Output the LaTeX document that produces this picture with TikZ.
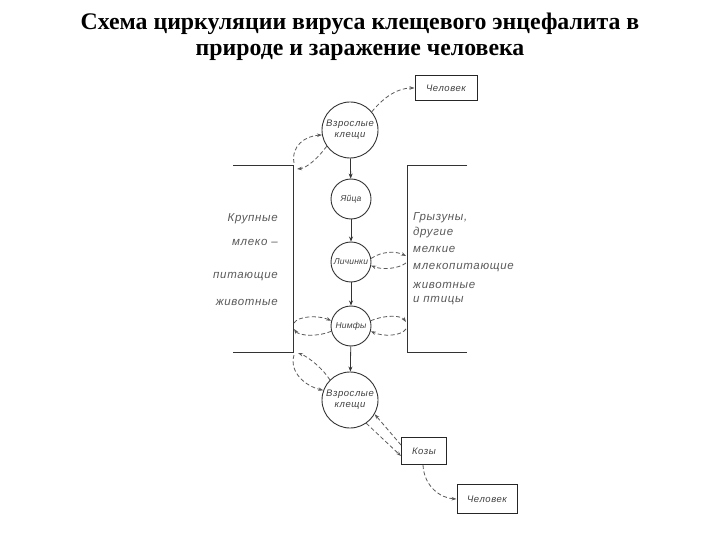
\documentclass[tikz,border=0pt]{standalone}
\usepackage{fontspec}
\setmainfont{Liberation Serif}
\newfontfamily\hand[LetterSpace=6]{Liberation Sans}
\newfontfamily\handn[LetterSpace=2]{Liberation Sans}
\usetikzlibrary{arrows.meta}
\begin{document}
\begin{tikzpicture}[x=1pt,y=-1pt,
  ln/.style={draw=black!80, line width=1pt},
  circ/.style={circle, draw=black!80, line width=0.9pt, inner sep=0pt,
    font=\hand\itshape\fontsize{9.5}{11}\selectfont, text=black!75, align=center},
  scirc/.style={circ, minimum size=40pt, font=\handn\itshape\fontsize{8.5}{10}\selectfont},
  box/.style={rectangle, draw=black!85, line width=1pt, inner sep=0pt,
    font=\hand\itshape\fontsize{9.5}{11}\selectfont, text=black!75},
  lbl/.style={font=\hand\itshape\fontsize{11.5}{13}\selectfont, text=black!65, inner sep=0pt},
  arr/.style={draw=black!80, line width=0.8pt, -{Stealth[length=5pt,width=4pt]}},
  dsh/.style={draw=black!65, line width=0.8pt, dash pattern=on 4pt off 2.5pt,
    -{Stealth[length=5pt,width=3.5pt]}}]
\useasboundingbox (0,0) rectangle (720,540);
\fill[white] (0,0) rectangle (720,540);

% title
\node[font=\bfseries\fontsize{23.8}{26}\selectfont, align=center] (title) at (360,37)
  {Схема циркуляции вируса клещевого энцефалита в\\природе и заражение человека};

% circles
\node[circ, minimum size=56pt] (c1) at (350,130) {Взрослые\\клещи};
\node[scirc] (egg) at (351,199) {Яйца};
\node[scirc] (lar) at (351,262) {Личинки};
\node[scirc] (nym) at (351,326) {Нимфы};
\node[circ, minimum size=56pt] (c2) at (350,400) {Взрослые\\клещи};

% boxes
\node[box, minimum width=62pt, minimum height=25pt] (man1) at (446,88) {Человек};
\node[box, minimum width=45pt, minimum height=27pt] (goat) at (424,451) {Козы};
\node[box, minimum width=60pt, minimum height=29pt] (man2) at (487,499) {Человек};

% brackets
\coordinate (LTe) at (233,166); \coordinate (LT) at (293,166);
\coordinate (LB) at (293,352); \coordinate (LBe) at (233,352);
\coordinate (RTe) at (467,166); \coordinate (RT) at (407,166);
\coordinate (RB) at (407,352); \coordinate (RBe) at (467,352);
\draw[ln] (LTe) -- (LT) -- (LB) -- (LBe);
\draw[ln] (RTe) -- (RT) -- (RB) -- (RBe);

% left text
\node[lbl, anchor=east] (l1) at (278,219) {Крупные};
\node[lbl, anchor=east] (l2) at (278,242) {млеко –};
\node[lbl, anchor=east] (l3) at (278,277) {питающие};
\node[lbl, anchor=east] (l4) at (278,302) {животные};
% right text
\node[lbl, anchor=west] (r1) at (413,218) {Грызуны,};
\node[lbl, anchor=west] (r2) at (413,233) {другие};
\node[lbl, anchor=west] (r3) at (413,249) {мелкие};
\node[lbl, anchor=west] (r4) at (413,268) {млекопитающие};
\node[lbl, anchor=west] (r5) at (413,285) {животные};
\node[lbl, anchor=west] (r6) at (413,301) {и птицы};

% solid life-cycle arrows
\draw[arr] (c1) -- (egg);
\draw[arr] (egg) -- (lar);
\draw[arr] (lar) -- (nym);
\draw[arr] (nym) -- (c2);

% dashed: top
\coordinate (t1) at (294,163); \coordinate (t2) at (297,169);
\draw[dsh] (t1) .. controls (291,146) and (305,136) .. (c1.190);
\draw[dsh] (c1.215) .. controls (318,158) and (307,168) .. (t2);
\draw[dsh] (c1.40) .. controls (385,96) and (398,88) .. (man1.west);

% larvae loop
\coordinate (a1) at (406,256); \coordinate (a2) at (406,263);
\draw[dsh] (lar.10) .. controls (382,251) and (396,251) .. (a1);
\draw[dsh] (a2) .. controls (398,269) and (382,270) .. (lar.-10);

% nymph loops
\coordinate (n1) at (294,323); \coordinate (n2) at (294,329);
\coordinate (n3) at (406,322); \coordinate (n4) at (406,329);
\draw[dsh] (n1) .. controls (298,316) and (318,315) .. (nym.165);
\draw[dsh] (nym.195) .. controls (318,337) and (299,336) .. (n2);
\draw[dsh] (nym.15) .. controls (384,315) and (401,315) .. (n3);
\draw[dsh] (n4) .. controls (401,336) and (384,337) .. (nym.-15);

% bottom loop
\coordinate (b1) at (294,355); \coordinate (b2) at (298,353);
\draw[dsh] (b1) .. controls (289,372) and (305,386) .. (c2.160);
\draw[dsh] (c2.135) .. controls (324,370) and (309,357) .. (b2);

% goats
\draw[dsh] ([yshift=6pt]goat.west) -- (c2.-30);
\draw[dsh] (c2.-55) -- ([yshift=-5pt]goat.west);
\draw[dsh] ([xshift=-1pt]goat.south) .. controls (424,486) and (440,498) .. (man2.west);
\end{tikzpicture}
\end{document}
